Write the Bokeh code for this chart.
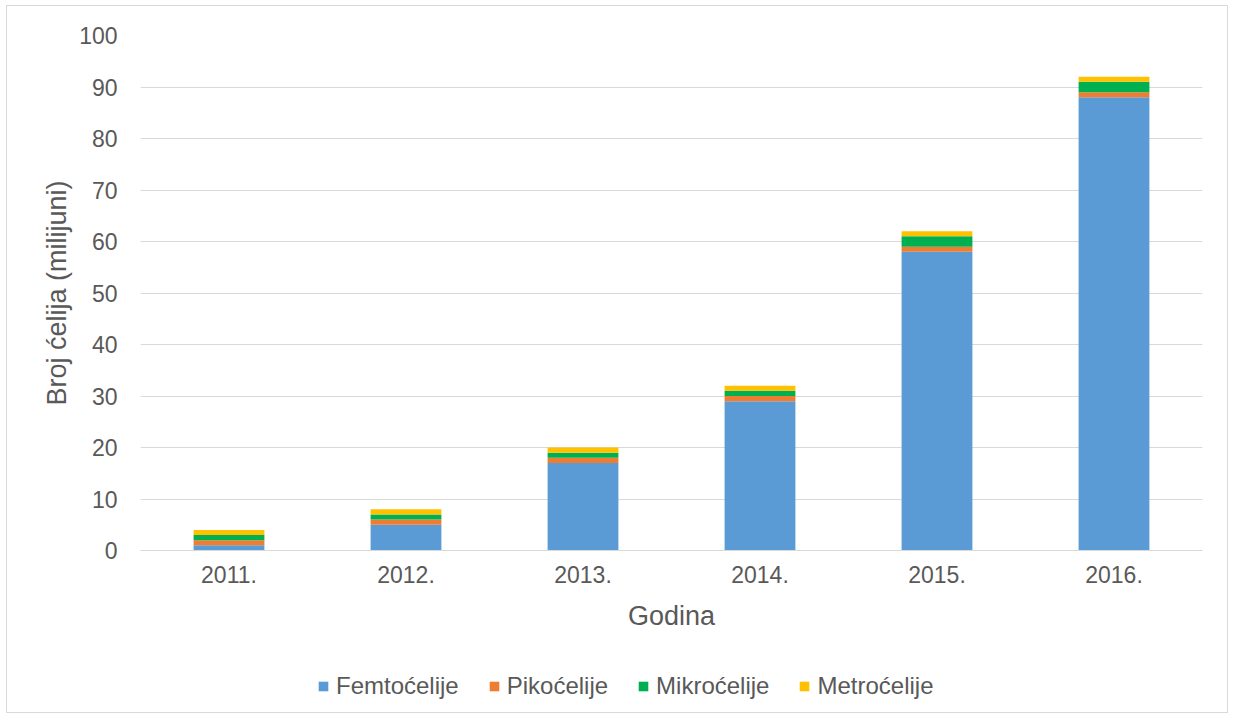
from bokeh.plotting import figure
from bokeh.models import ColumnDataSource, Legend, LegendItem, Range1d, FactorRange
from bokeh.layouts import column
from bokeh.embed import file_html
from bokeh.resources import INLINE

years = ["2011.", "2012.", "2013.", "2014.", "2015.", "2016."]
femto = [1, 5, 17, 29, 58, 88]
piko = [1, 1, 1, 1, 1, 1]
mikro = [1, 1, 1, 1, 2, 2]
metro = [1, 1, 1, 1, 1, 1]
series = ["Femtoćelije", "Pikoćelije", "Mikroćelije", "Metroćelije"]
colors = ["#5B9BD5", "#ED7D31", "#00B050", "#FFC000"]
y_ticks = [0, 10, 20, 30, 40, 50, 60, 70, 80, 90, 100]

source = ColumnDataSource(dict(year=years, **{series[0]: femto, series[1]: piko,
                                               series[2]: mikro, series[3]: metro}))

FONT = "Liberation Sans"
GREY = "#595959"

p = figure(x_range=FactorRange(*years, range_padding=0), y_range=Range1d(0, 100),
           width=1220, height=627, output_backend="svg", toolbar_location=None,
           min_border_left=133, min_border_right=25, min_border_top=29,
           min_border_bottom=60)

renderers = p.vbar_stack(series, x="year", width=0.4, color=colors, source=source,
                         line_color=None)

p.outline_line_color = None
p.background_fill_color = "white"
p.border_fill_color = "white"

# y axis
p.yaxis.ticker = y_ticks
p.yaxis.axis_line_color = None
p.yaxis.major_tick_line_color = None
p.yaxis.minor_tick_line_color = None
p.yaxis.major_label_text_font = FONT
p.yaxis.major_label_text_font_size = "23px"
p.yaxis.major_label_text_color = GREY
p.yaxis.major_label_standoff = 17
p.yaxis.axis_label = "Broj ćelija (milijuni)"
p.yaxis.axis_label_text_font = FONT
p.yaxis.axis_label_text_font_size = "27px"
p.yaxis.axis_label_text_font_style = "normal"
p.yaxis.axis_label_text_color = GREY
p.yaxis.axis_label_standoff = 4

# x axis
p.xaxis.axis_line_color = "#D9D9D9"
p.xaxis.axis_line_width = 1
p.xaxis.major_tick_line_color = None
p.xaxis.minor_tick_line_color = None
p.xaxis.major_label_text_font = FONT
p.xaxis.major_label_text_font_size = "23px"
p.xaxis.major_label_text_color = GREY
p.xaxis.major_label_standoff = 9
p.xaxis.axis_label = "Godina"
p.xaxis.axis_label_text_font = FONT
p.xaxis.axis_label_text_font_size = "27px"
p.xaxis.axis_label_text_font_style = "normal"
p.xaxis.axis_label_text_color = GREY
p.xaxis.axis_label_standoff = 15

p.xgrid.grid_line_color = None
p.ygrid.grid_line_color = "#D9D9D9"
p.ygrid.grid_line_width = 1

# legend figure (holds the legend below the chart)
lf = figure(x_range=FactorRange(*years, range_padding=0), y_range=Range1d(200, 300),
            width=1220, height=79, output_backend="svg", toolbar_location=None,
            min_border=0)
lf.axis.visible = False
lf.grid.visible = False
lf.outline_line_color = None
lrs = lf.vbar_stack(series, x="year", width=0.4, color=colors, source=source,
                    line_color=None)

legend = Legend(items=[LegendItem(label=s, renderers=[r]) for s, r in zip(series, lrs)],
                orientation="horizontal", location=(177, 12))
legend.label_text_font = FONT
legend.label_text_font_size = "24px"
legend.label_text_color = GREY
legend.glyph_width = 12
legend.glyph_height = 12
legend.label_standoff = 7
legend.spacing = 29
legend.padding = 6
legend.margin = 0
legend.border_line_color = None
legend.background_fill_alpha = 0
lf.add_layout(legend, "center")

layout = column(p, lf, spacing=0,
                styles={"border": "1px solid #D9D9D9", "margin-left": "6px",
                        "margin-top": "5px", "background": "white"})

open("out.html", "w").write(file_html(layout, INLINE))
